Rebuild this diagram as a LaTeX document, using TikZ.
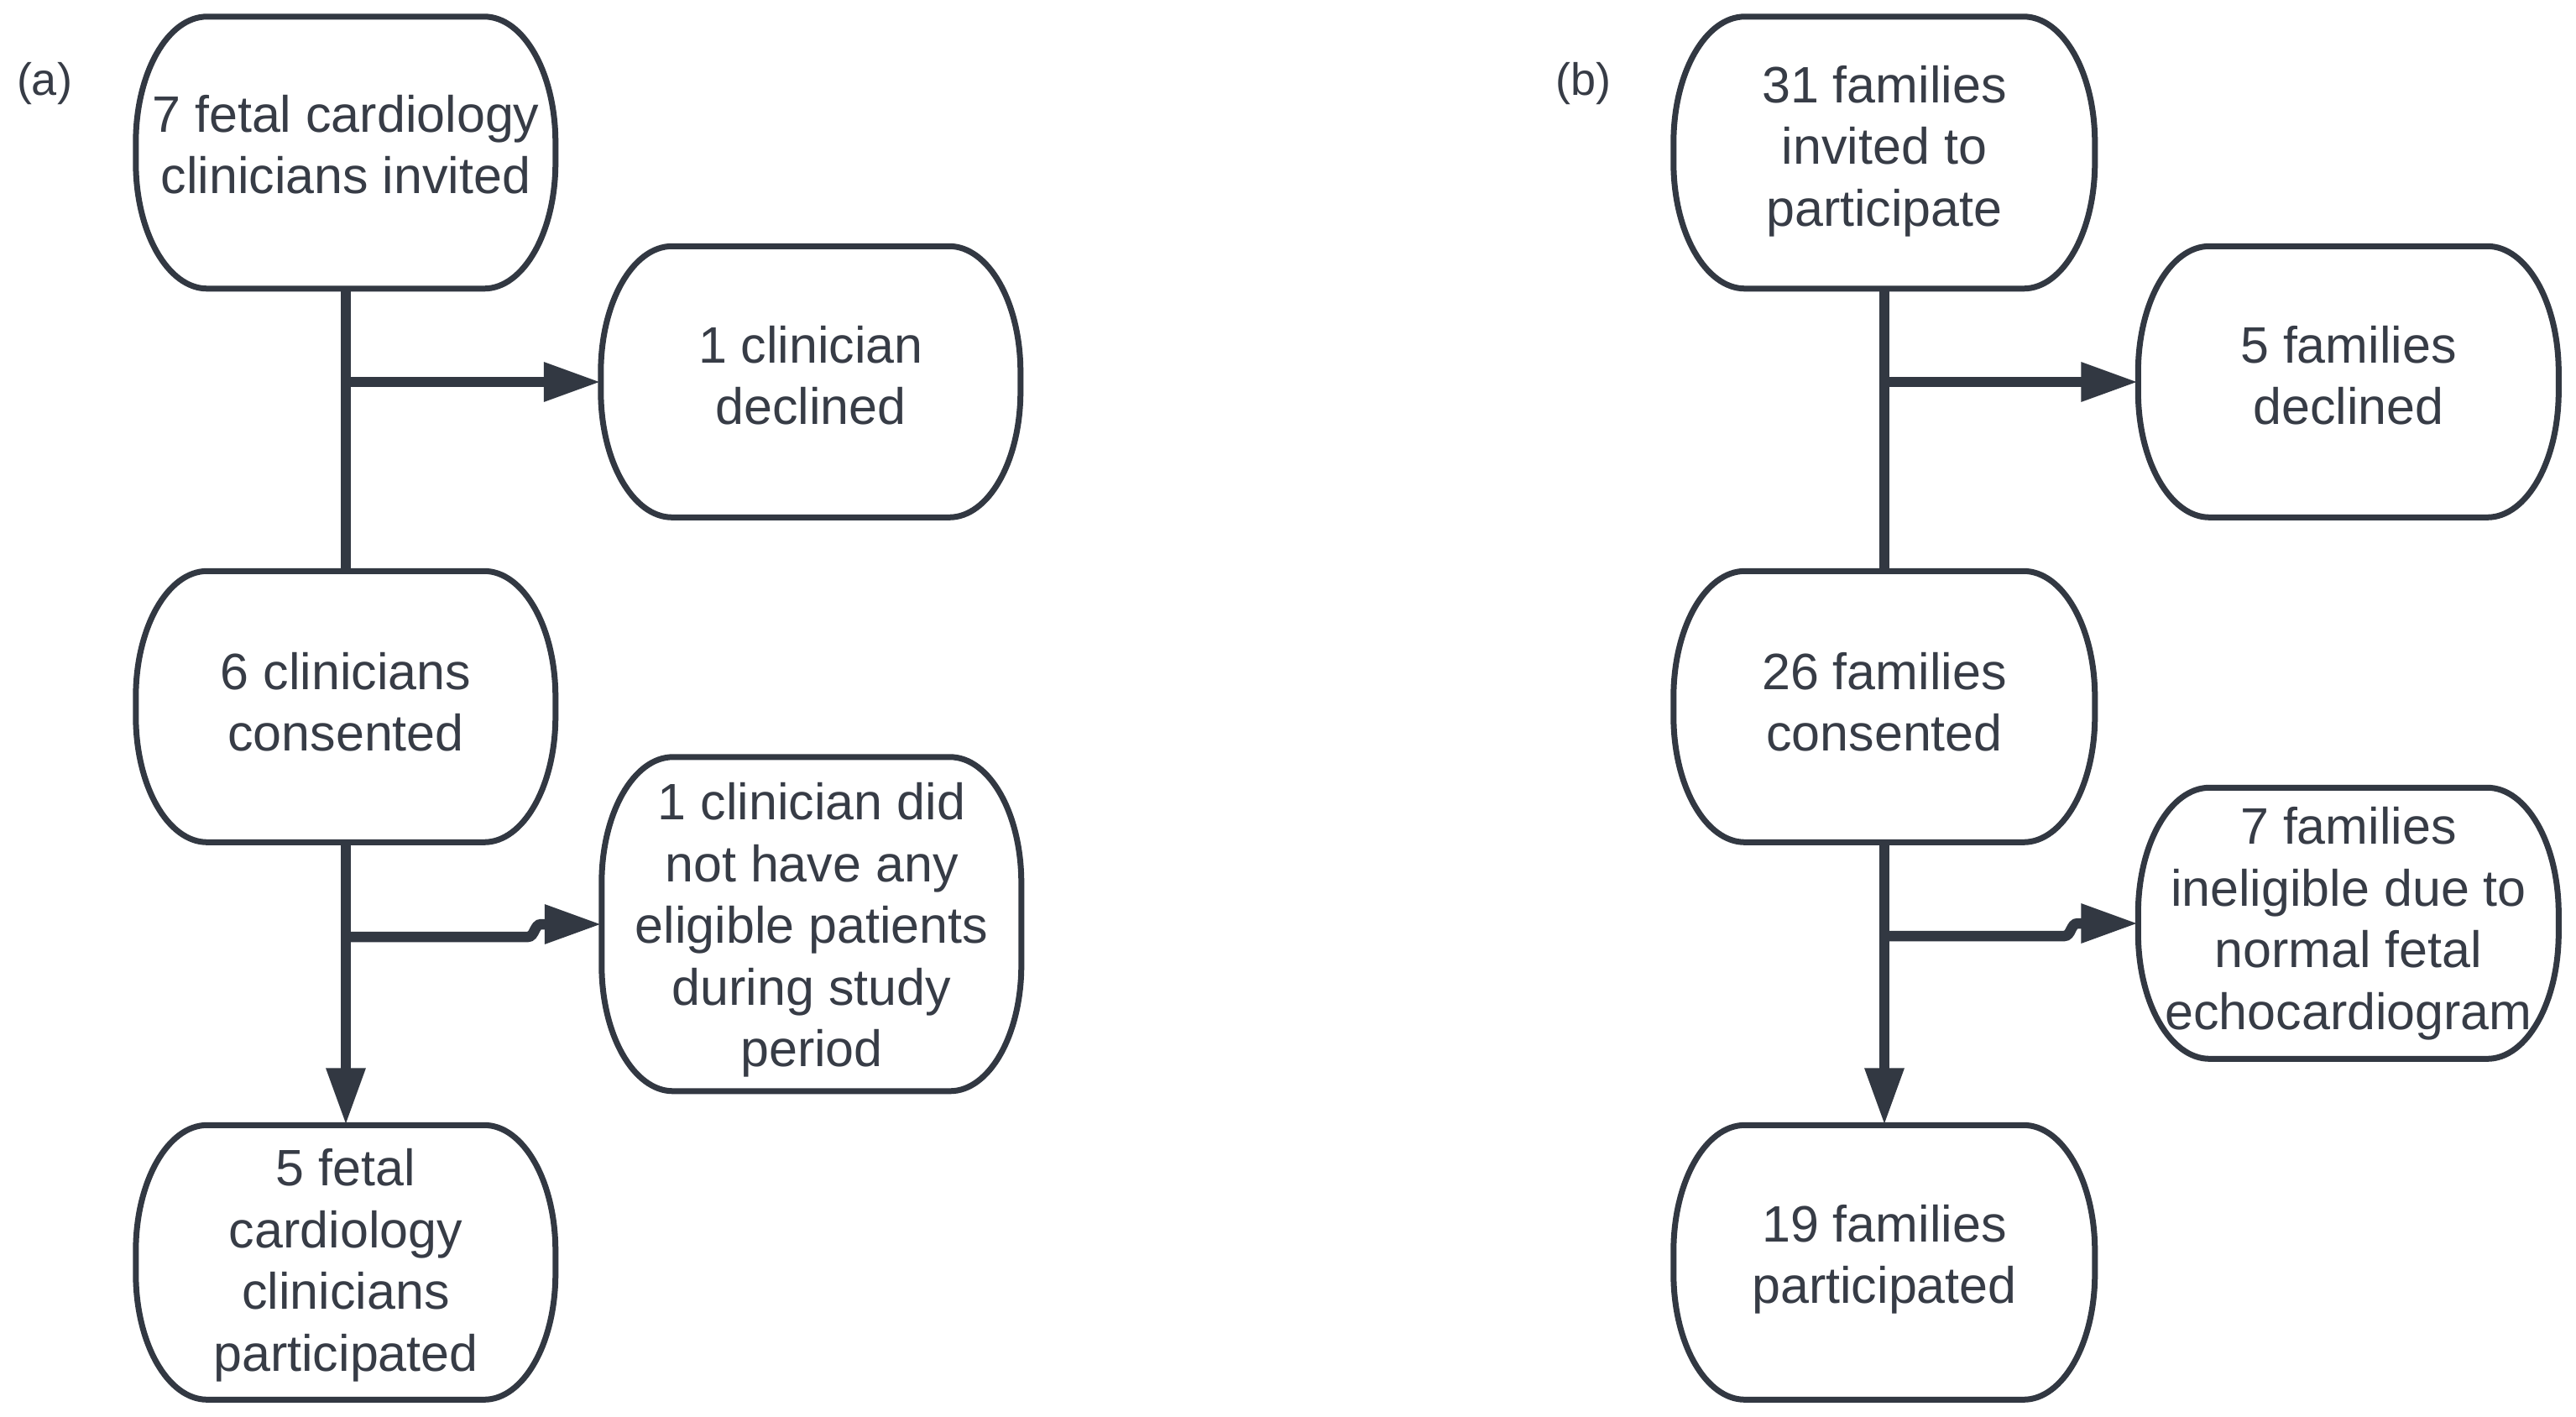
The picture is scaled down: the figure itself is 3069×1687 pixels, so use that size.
\documentclass[tikz,border=0pt]{standalone}
\usepackage{fontspec}
\setmainfont{Liberation Sans}
\usetikzlibrary{arrows.meta,calc}
\definecolor{ink}{RGB}{50,56,66}
\definecolor{txt}{RGB}{55,60,70}
\tikzset{
  boxtext/.style={draw=none, align=center, inner sep=0pt, text=txt,
    font=\fontsize{61}{73.5}\selectfont},
  boxline/.style={draw=ink, line width=7pt},
  conn/.style={draw=ink, line width=12.5pt},
  tip/.style={-{Triangle[length=68pt,width=44pt]}},
  lab/.style={text=txt, font=\fontsize{54}{64}\selectfont, inner sep=0pt},
}
% name, cx, cy, w, h, text, text shift
\newcommand\flowbox[7]{%
  \coordinate (#1-c) at (#2,#3);
  \node[minimum width=#4pt, minimum height=#5pt, inner sep=0pt] (#1) at (#1-c) {};
  \node[boxtext] (#1-t) at ($(#1-c)+(0pt,#7pt)$) {#6};
  \pgfmathsetmacro\fbw{#4-170}%
  \pgfmathsetmacro\fbh{#5-300}%
  \draw[boxline] ($(#1.north west)+(85pt,0pt)$) -- ++(\fbw pt,0pt)
    arc[start angle=90,end angle=0,x radius=85pt,y radius=150pt]
    -- ++(0pt,-\fbh pt)
    arc[start angle=0,end angle=-90,x radius=85pt,y radius=150pt]
    -- ++(-\fbw pt,0pt)
    arc[start angle=270,end angle=180,x radius=85pt,y radius=150pt]
    -- ++(0pt,\fbh pt)
    arc[start angle=180,end angle=90,x radius=85pt,y radius=150pt] -- cycle;
}
\begin{document}
\begin{tikzpicture}[x=1pt,y=-1pt]
\useasboundingbox[fill=white] (0,0) rectangle (3069,1687);
% labels
\node[lab] (la) at (53,100) {(a)};
\node[lab] (lb) at (1886,100) {(b)};
% column (a)
\flowbox{a1}{412}{182}{500}{324}{7 fetal cardiology\\clinicians invited}{10}
\flowbox{a2}{966}{455}{500}{323}{1 clinician\\declined}{8}
\flowbox{a3}{412}{842}{500}{323}{6 clinicians\\consented}{6}
\flowbox{a4}{967}{1101}{500}{398}{1 clinician did\\not have any\\eligible patients\\during study\\period}{-7}
\flowbox{a5}{412}{1504}{500}{327}{5 fetal\\cardiology\\clinicians\\participated}{-3}
% column (b)
\flowbox{b1}{2245}{182}{502}{324}{31 families\\invited to\\participate}{2}
\flowbox{b2}{2798}{455}{501}{323}{5 families\\declined}{8}
\flowbox{b3}{2245}{842}{502}{323}{26 families\\consented}{6}
\flowbox{b4}{2798}{1100}{501}{323}{7 families\\ineligible due to\\normal fetal\\echocardiogram}{0}
\flowbox{b5}{2245}{1504}{502}{327}{19 families\\participated}{4}
% connectors (a)
\draw[conn] (a1.south) -- (a3.north);
\coordinate (ja) at (a1.south |- a2.west);
\draw[conn,tip] (ja) -- (a2.west);
\draw[conn,tip] (a3.south) -- (a5.north);
\coordinate (jb) at ($(a3.south |- a4.west)+(0pt,-15pt)$);
\coordinate (kb) at ($(a4.west)+(-88pt,-15pt)$);
\coordinate (mb) at ($(a4.west)+(-72pt,0pt)$);
\draw[conn,tip] (jb) -- (kb) to[out=0,in=180] (mb) -- (a4.west);
% connectors (b)
\draw[conn] (b1.south) -- (b3.north);
\coordinate (jc) at (b1.south |- b2.west);
\draw[conn,tip] (jc) -- (b2.west);
\draw[conn,tip] (b3.south) -- (b5.north);
\coordinate (jd) at ($(b3.south |- b4.west)+(0pt,-15pt)$);
\coordinate (kd) at ($(b4.west)+(-88pt,-15pt)$);
\coordinate (md) at ($(b4.west)+(-72pt,0pt)$);
\draw[conn,tip] (jd) -- (kd) to[out=0,in=180] (md) -- (b4.west);
\end{tikzpicture}
\end{document}
